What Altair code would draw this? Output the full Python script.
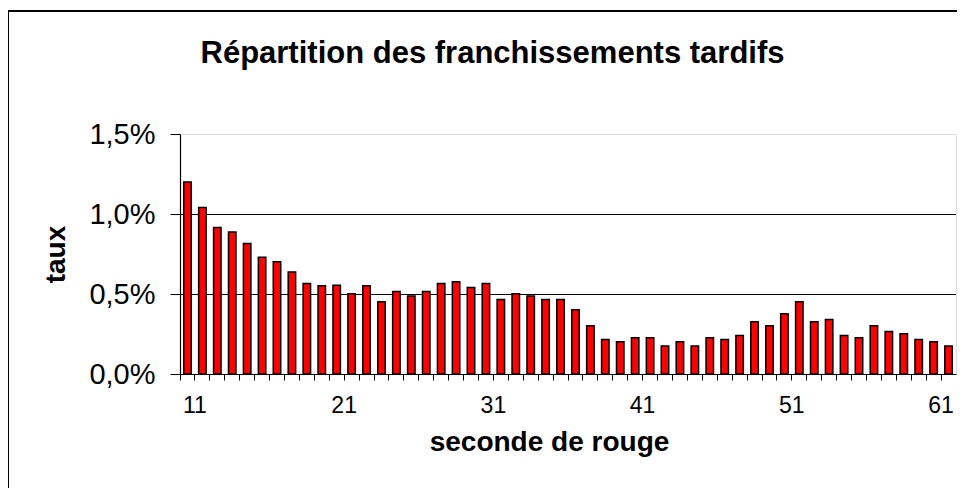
import altair as alt
import pandas as pd

# --- data -------------------------------------------------------------------
seconds = list(range(11, 63))
rates = [
    1.20, 1.04, 0.915, 0.888, 0.815, 0.729, 0.702, 0.638, 0.565, 0.552,
    0.554, 0.502, 0.552, 0.452, 0.515, 0.488, 0.515, 0.565, 0.577, 0.540,
    0.565, 0.465, 0.502, 0.488, 0.465, 0.465, 0.402, 0.302, 0.215, 0.202,
    0.227, 0.227, 0.175, 0.202, 0.175, 0.227, 0.215, 0.240, 0.327, 0.302,
    0.377, 0.452, 0.327, 0.340, 0.240, 0.227, 0.302, 0.265, 0.252, 0.215,
    0.202, 0.175,
]
y_ticks = [0.0, 0.5, 1.0, 1.5]
grid_values = [0.5, 1.0]

df = pd.DataFrame({"seconde": seconds, "taux": rates})
grid_df = pd.DataFrame({"v": grid_values})

W, H = 776, 240
FONT = "Liberation Sans"
step = W / len(seconds)

y_scale = alt.Scale(domain=[0, 1.5], nice=False)
x_scale = alt.Scale(paddingInner=0, paddingOuter=0)

x_axis = alt.Axis(
    title="seconde de rouge",
    titleFont=FONT, titleFontSize=28, titleFontWeight="bold", titleColor="black",
    titleX=369, titleY=68, titleBaseline="middle", titleAlign="center",
    bandPosition=0, labelOffset=step / 2, labelAngle=0,
    labelExpr="(toNumber(datum.value) - 11) % 10 == 0 ? datum.label : ''",
    labelFont=FONT, labelFontSize=23, labelColor="black", labelBaseline="top",
    labelPadding=14, tickSize=6, tickColor="black", tickWidth=1,
    domainColor="black", domainWidth=1, grid=False, labelOverlap=False,
)

y_axis = alt.Axis(
    title="taux",
    titleFont=FONT, titleFontSize=28, titleFontWeight="bold", titleColor="black",
    titleAngle=270, titleX=-124, titleY=120, titleBaseline="middle", titleAlign="center",
    values=y_ticks,
    labelExpr="replace(format(datum.value, '.1f'), '.', ',') + '%'",
    labelFont=FONT, labelFontSize=29, labelColor="black", labelPadding=15,
    tickSize=10, tickColor="black", tickWidth=1,
    domainColor="black", domainWidth=1.2, grid=False,
)

border = alt.Chart(alt.Data(values=[{"k": 1}])).mark_rect(
    fillOpacity=0, stroke="black", strokeWidth=2
).encode(
    x=alt.value(-172), x2=alt.value(900), y=alt.value(-123), y2=alt.value(700)
)

grid = alt.Chart(grid_df).mark_rule(color="black", strokeWidth=1, yOffset=0.5).encode(
    y=alt.Y("v:Q", scale=y_scale, axis=y_axis)
)

bars = alt.Chart(df).mark_bar(
    width={"band": 0.5}, color="#ff0000", stroke="black", strokeWidth=1.5
).encode(
    x=alt.X("seconde:O", scale=x_scale, axis=x_axis),
    y=alt.Y("taux:Q", scale=y_scale, axis=y_axis),
)

chart = alt.layer(border, grid, bars).properties(
    width=W,
    height=H,
    autosize=alt.AutoSizeParams(type="none"),
    padding={"left": 172, "top": 126, "right": 1, "bottom": 114},
    title=alt.TitleParams(
        text="Répartition des franchissements tardifs",
        font=FONT, fontSize=31, fontWeight="bold", color="black",
        anchor="middle", dx=-75.5, offset=-84, baseline="alphabetic",
    ),
).configure_view(
    stroke="#999999", strokeWidth=1.5
).configure(
    font=FONT, background="white"
)

chart.save("out.html", embed_options={"renderer": "svg", "actions": False})
